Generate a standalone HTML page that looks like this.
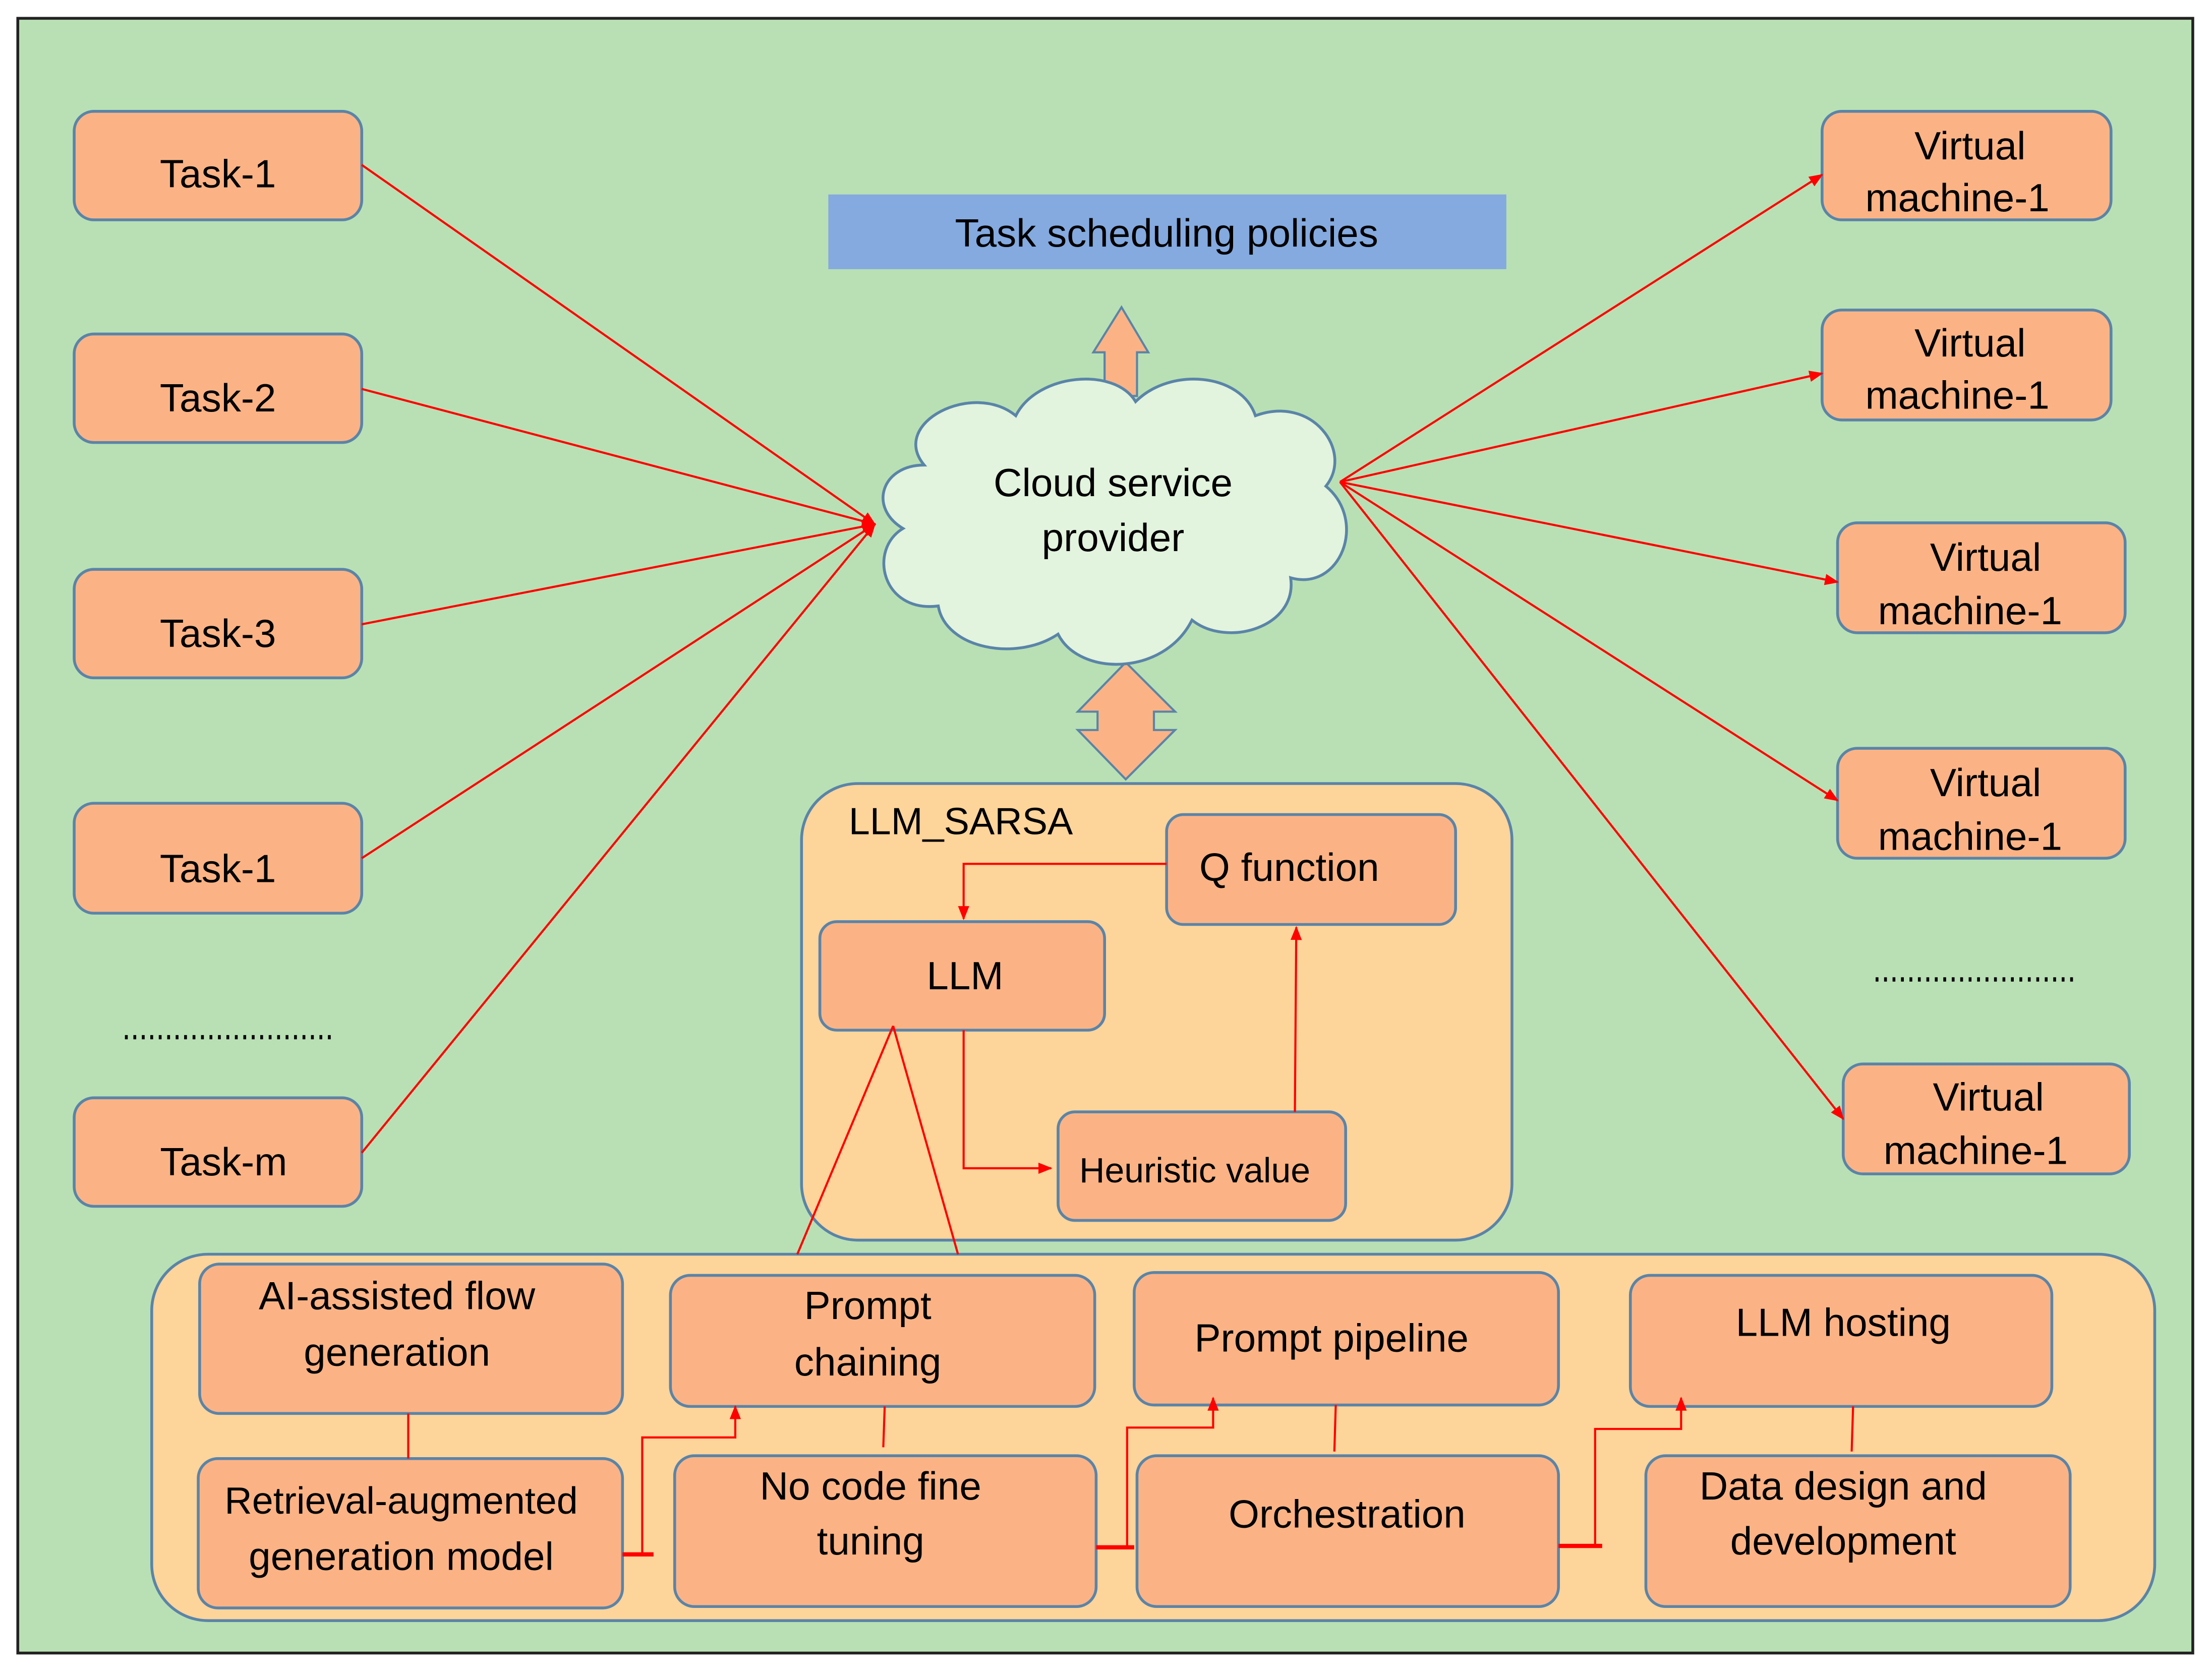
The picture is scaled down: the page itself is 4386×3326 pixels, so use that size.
<!DOCTYPE html>
<html><head><style>html,body{margin:0;padding:0;background:#fff}svg{display:block}</style></head><body>
<svg xmlns="http://www.w3.org/2000/svg" width="4386" height="3326" viewBox="0 0 1568 1190" font-family="'Liberation Sans',sans-serif" font-size="28" text-anchor="middle">
<defs>
<marker id="a" markerWidth="10" markerHeight="10" refX="9" refY="5" orient="auto" markerUnits="userSpaceOnUse"><path d="M0,1 L10,5 L0,9 z" fill="#f00"/></marker>
</defs>
<rect x="0" y="0" width="1568" height="1190" fill="#fff"/>
<rect x="12" y="13" width="1543" height="1160" fill="#b9e0b4" stroke="#222" stroke-width="2"/>
<g fill="#fbb385" stroke="#5a84a8" stroke-width="2">
<rect x="52" y="79" width="204" height="77" rx="14"/>
<rect x="52" y="237" width="204" height="77" rx="14"/>
<rect x="52" y="404" width="204" height="77" rx="14"/>
<rect x="52" y="570" width="204" height="78" rx="14"/>
<rect x="52" y="779" width="204" height="77" rx="14"/>
<rect x="1292" y="79" width="205" height="77" rx="14"/>
<rect x="1292" y="220" width="205" height="78" rx="14"/>
<rect x="1303" y="371" width="204" height="78" rx="14"/>
<rect x="1303" y="531" width="204" height="78" rx="14"/>
<rect x="1307" y="755" width="203" height="78" rx="14"/>
</g>
<g fill="#000">
<text x="154" y="133">Task-1</text>
<text x="154" y="292">Task-2</text>
<text x="154" y="459">Task-3</text>
<text x="154" y="626">Task-1</text>
<text x="158" y="834">Task-m</text>
<text x="1397" y="113">Virtual</text><text x="1388" y="150">machine-1</text>
<text x="1397" y="253">Virtual</text><text x="1388" y="290">machine-1</text>
<text x="1408" y="405">Virtual</text><text x="1397" y="443">machine-1</text>
<text x="1408" y="565">Virtual</text><text x="1397" y="603">machine-1</text>
<text x="1410" y="788">Virtual</text><text x="1401" y="826">machine-1</text>
</g>
<line x1="88" y1="736" x2="234" y2="736" stroke="#000" stroke-width="3" stroke-dasharray="2,4"/>
<line x1="1330" y1="695" x2="1474" y2="695" stroke="#000" stroke-width="3" stroke-dasharray="2,4"/>
<rect x="587" y="138" width="481" height="53" fill="#84aadf"/>
<text x="827" y="175">Task scheduling policies</text>
<path d="M783,281 L783,250 L775,250 L795,218 L814,250 L806,250 L806,281 z" fill="#fbb385" stroke="#5a84a8" stroke-width="1.5"/>
<path d="M798,470 L833,505 L818,505 L818,518 L833,518 L798,553 L764,518 L778,518 L778,505 L764,505 z" fill="#fbb385" stroke="#5a84a8" stroke-width="1.5"/>
<path d="M655,330 C630,300 690,270 720,295 C735,265 790,260 805,285 C830,260 880,265 890,295 C930,280 960,320 940,345 C970,370 950,420 915,410 C920,445 870,460 845,440 C825,480 765,480 750,450 C720,470 670,460 665,430 C625,435 615,390 640,375 C615,360 625,330 655,330 z" fill="#e2f3de" stroke="#5a84a8" stroke-width="2"/>
<text x="789" y="352">Cloud service</text>
<text x="789" y="391">provider</text>
<g stroke="#f00" stroke-width="1.5" fill="none" marker-end="url(#a)">
<line x1="256" y1="117" x2="620" y2="372"/>
<line x1="256" y1="276" x2="620" y2="372"/>
<line x1="256" y1="443" x2="620" y2="372"/>
<line x1="256" y1="609" x2="620" y2="372"/>
<line x1="256" y1="818" x2="620" y2="372"/>
<line x1="950" y1="342" x2="1292" y2="124"/>
<line x1="950" y1="342" x2="1292" y2="265"/>
<line x1="950" y1="342" x2="1303" y2="413"/>
<line x1="950" y1="342" x2="1303" y2="568"/>
<line x1="950" y1="342" x2="1307" y2="794"/>
</g>
<rect x="568" y="556" width="504" height="324" rx="40" fill="#fdd49a" stroke="#5a84a8" stroke-width="2"/>
<text x="681" y="592" font-size="27">LLM_SARSA</text>
<g fill="#fbb385" stroke="#5a84a8" stroke-width="2">
<rect x="827" y="578" width="205" height="78" rx="12"/>
<rect x="581" y="654" width="202" height="77" rx="12"/>
<rect x="750" y="789" width="204" height="77" rx="12"/>
</g>
<text x="914" y="625">Q function</text>
<text x="684" y="702">LLM</text>
<text x="847" y="839" font-size="25">Heuristic value</text>
<g stroke="#f00" stroke-width="1.5" fill="none" marker-end="url(#a)">
<polyline points="827,613 683,613 683,652"/>
<polyline points="683,731 683,829 745,829"/>
<line x1="918" y1="789" x2="919" y2="658"/>
</g>
<rect x="107" y="890" width="1421" height="260" rx="40" fill="#fdd49a" stroke="#5a84a8" stroke-width="2"/>
<g stroke="#f00" stroke-width="1.5">
<line x1="633" y1="728" x2="565" y2="890"/>
<line x1="633" y1="728" x2="679" y2="890"/>
</g>
<g fill="#fbb385" stroke="#5a84a8" stroke-width="2">
<rect x="141" y="897" width="300" height="106" rx="14"/>
<rect x="475" y="905" width="301" height="93" rx="14"/>
<rect x="804" y="903" width="301" height="94" rx="14"/>
<rect x="1156" y="905" width="299" height="93" rx="14"/>
<rect x="140" y="1035" width="301" height="106" rx="14"/>
<rect x="478" y="1033" width="299" height="107" rx="14"/>
<rect x="806" y="1033" width="299" height="107" rx="14"/>
<rect x="1167" y="1033" width="301" height="107" rx="14"/>
</g>
<g fill="#000">
<text x="281" y="929">AI-assisted flow</text><text x="281" y="969">generation</text>
<text x="615" y="936">Prompt</text><text x="615" y="976">chaining</text>
<text x="944" y="959">Prompt pipeline</text>
<text x="1307" y="948">LLM hosting</text>
<text x="284" y="1074" font-size="27">Retrieval-augmented</text><text x="284" y="1114">generation model</text>
<text x="617" y="1064">No code fine</text><text x="617" y="1103">tuning</text>
<text x="955" y="1084">Orchestration</text>
<text x="1307" y="1064">Data design and</text><text x="1307" y="1103">development</text>
</g>
<g stroke="#f00" stroke-width="1.5" fill="none">
<line x1="289" y1="1003" x2="289" y2="1035"/>
<line x1="627" y1="998" x2="626" y2="1027"/>
<line x1="947" y1="997" x2="946" y2="1030"/>
<line x1="1314" y1="998" x2="1313" y2="1030"/>
<polyline points="441,1103 463,1103" stroke-width="3"/>
<polyline points="455,1103 455,1020 521,1020 521,998" marker-end="url(#a)"/>
<polyline points="777,1098 804,1098" stroke-width="3"/>
<polyline points="799,1098 799,1013 860,1013 860,992" marker-end="url(#a)"/>
<polyline points="1105,1097 1136,1097" stroke-width="3"/>
<polyline points="1131,1097 1131,1014 1192,1014 1192,992" marker-end="url(#a)"/>
</g>
</svg>
</body></html>
